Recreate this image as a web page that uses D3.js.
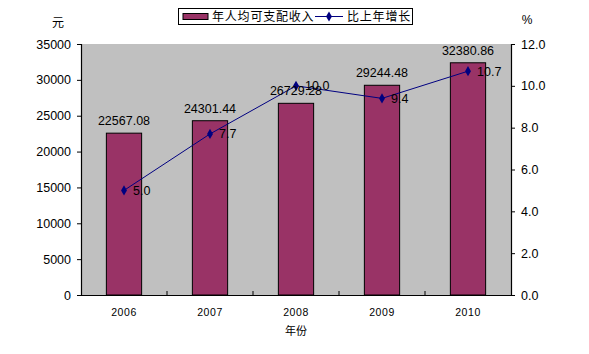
<!DOCTYPE html>
<html>
<head>
<meta charset="utf-8">
<script src="https://cdn.jsdelivr.net/npm/d3@7"></script>
<style>
  body { margin: 0; background: #fff; }
  text { font-family: Arial, "Liberation Sans", "Noto Sans CJK SC", sans-serif; fill: #000; }
</style>
</head>
<body>
<div id="chart"></div>
<script>
const years = ["2006", "2007", "2008", "2009", "2010"];
const income = [22567.08, 24301.44, 26729.28, 29244.48, 32380.86];
const growth = [5.0, 7.7, 10.0, 9.4, 10.7];
const leftTicks = [0, 5000, 10000, 15000, 20000, 25000, 30000, 35000];
const rightTicks = [0, 2, 4, 6, 8, 10, 12];

const width = 589, height = 354;
const plot = { left: 81, right: 511, top: 44, bottom: 295 };

const svg = d3.select("#chart").append("svg")
  .attr("width", width)
  .attr("height", height);

const x = d3.scaleBand().domain(years).range([plot.left, plot.right]).padding(0);
const barW = x.bandwidth() * 0.41;
const yL = d3.scaleLinear().domain([0, 35000]).range([plot.bottom, plot.top]);
const yR = d3.scaleLinear().domain([0, 12]).range([plot.bottom, plot.top]);

// plot background
svg.append("rect")
  .attr("x", plot.left).attr("y", plot.top)
  .attr("width", plot.right - plot.left).attr("height", plot.bottom - plot.top)
  .attr("fill", "#c0c0c0");

// bars
svg.append("g").selectAll("rect")
  .data(years)
  .join("rect")
  .attr("x", (d) => x(d) + x.bandwidth() / 2 - barW / 2)
  .attr("y", (d, i) => yL(income[i]))
  .attr("width", barW)
  .attr("height", (d, i) => yL(0) - yL(income[i]))
  .attr("fill", "#993366")
  .attr("stroke", "#000")
  .attr("stroke-width", 1);

// axes
const axL = svg.append("g")
  .attr("transform", `translate(${plot.left},0)`)
  .call(d3.axisLeft(yL).tickValues(leftTicks).tickSize(4).tickPadding(6).tickFormat(d3.format("d")));
const axR = svg.append("g")
  .attr("transform", `translate(${plot.right},0)`)
  .call(d3.axisRight(yR).tickValues(rightTicks).tickSize(4).tickPadding(6).tickFormat(d3.format(".1f")));
const axB = svg.append("g")
  .attr("transform", `translate(0,${plot.bottom})`)
  .call(d3.axisBottom(x).tickSize(0).tickPadding(14));

[axL, axR, axB].forEach((g) => {
  g.select(".domain").attr("stroke", "#000").attr("stroke-width", 1.2);
  g.selectAll(".tick line").attr("stroke", "#000");
  g.selectAll(".tick text").attr("font-size", 12.5).attr("fill", "#000")
    .style("font-family", "Arial, 'Liberation Sans', sans-serif");
});
axB.selectAll(".tick text").attr("font-size", 10.5).attr("letter-spacing", 0.6);

// small tick marks between categories on the x axis
svg.append("g").selectAll("line")
  .data(years.slice(1))
  .join("line")
  .attr("x1", (d) => x(d)).attr("x2", (d) => x(d))
  .attr("y1", plot.bottom).attr("y2", plot.bottom - 4)
  .attr("stroke", "#000");

// line series
const line = d3.line()
  .x((d, i) => x(years[i]) + x.bandwidth() / 2)
  .y((d) => yR(d));

svg.append("path")
  .datum(growth)
  .attr("d", line)
  .attr("fill", "none")
  .attr("stroke", "#000080")
  .attr("stroke-width", 1);

const diamond = d3.symbol().type(d3.symbolDiamond).size(30);
svg.append("g").selectAll("path")
  .data(growth)
  .join("path")
  .attr("d", diamond)
  .attr("transform", (d, i) => `translate(${x(years[i]) + x.bandwidth() / 2},${yR(d)})`)
  .attr("fill", "#000080");

// bar value labels
svg.append("g").selectAll("text")
  .data(income)
  .join("text")
  .attr("x", (d, i) => x(years[i]) + x.bandwidth() / 2)
  .attr("y", (d) => yL(d) - 8)
  .attr("text-anchor", "middle")
  .attr("font-size", 12.5)
  .text((d) => d3.format(".2f")(d));

// growth labels
svg.append("g").selectAll("text")
  .data(growth)
  .join("text")
  .attr("x", (d, i) => x(years[i]) + x.bandwidth() / 2 + 9)
  .attr("y", (d) => yR(d) + 4.5)
  .attr("font-size", 12.5)
  .text((d) => d3.format(".1f")(d));

// axis titles
svg.append("text").attr("x", 58).attr("y", 27).attr("text-anchor", "middle")
  .attr("font-size", 12).text("元");
svg.append("text").attr("x", 527).attr("y", 24).attr("text-anchor", "middle")
  .attr("font-size", 12).text("%");
svg.append("text").attr("x", (plot.left + plot.right) / 2).attr("y", 335).attr("text-anchor", "middle")
  .attr("font-size", 11).text("年份");

// legend
const legend = svg.append("g");
legend.append("rect")
  .attr("x", 178.5).attr("y", 8.5).attr("width", 234).attr("height", 16)
  .attr("fill", "#fff").attr("stroke", "#000");
legend.append("rect")
  .attr("x", 183).attr("y", 13.5).attr("width", 25).attr("height", 6)
  .attr("fill", "#993366").attr("stroke", "#000");
legend.append("text").attr("x", 212).attr("y", 21).attr("font-size", 12)
  .attr("letter-spacing", 0.8).text("年人均可支配收入");
legend.append("line")
  .attr("x1", 315).attr("x2", 343).attr("y1", 16.5).attr("y2", 16.5)
  .attr("stroke", "#000080");
legend.append("path").attr("d", diamond)
  .attr("transform", "translate(329,16.5)").attr("fill", "#000080");
legend.append("text").attr("x", 347).attr("y", 21).attr("font-size", 12)
  .attr("letter-spacing", 0.8).text("比上年增长");
</script>
</body>
</html>
